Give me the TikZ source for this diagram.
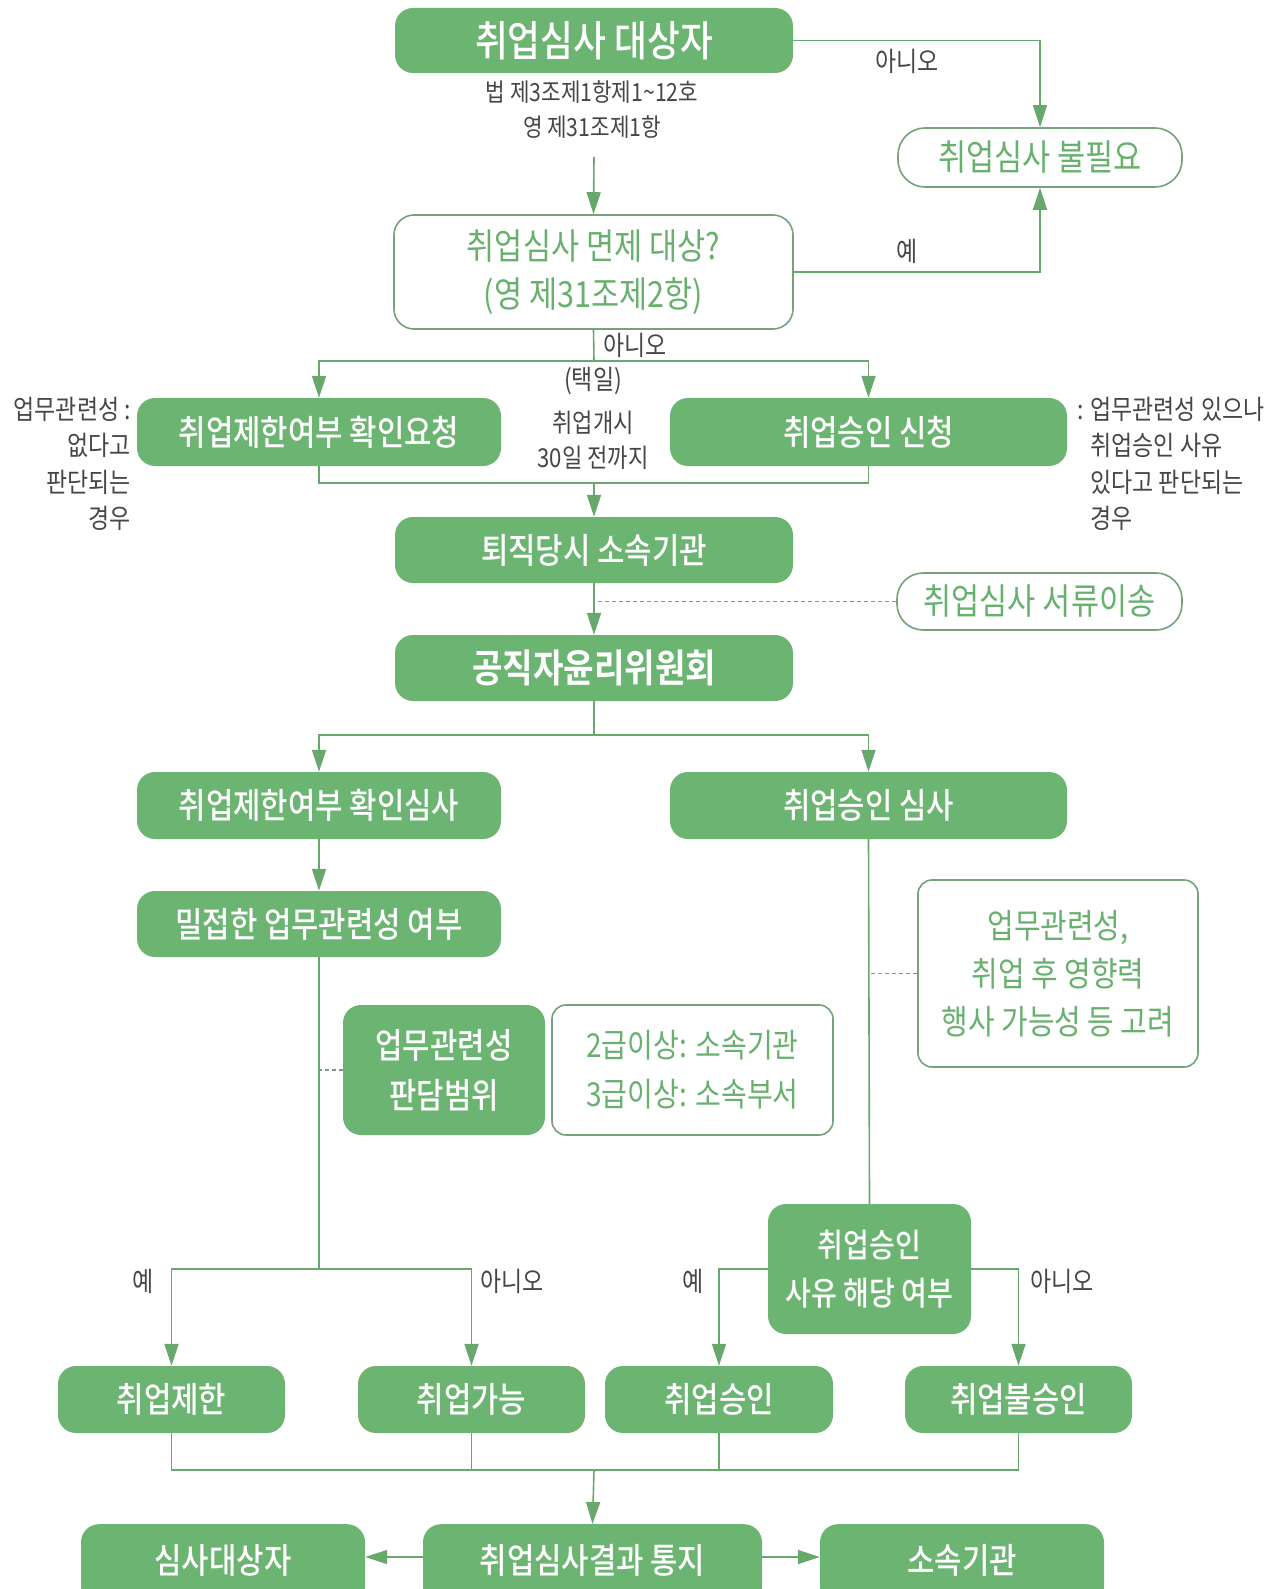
\documentclass[tikz,border=0pt]{standalone}
\usepackage{fontspec}
\setmainfont{Noto Sans CJK KR}[FakeStretch=0.85]
\newfontfamily\boxfont{Noto Sans CJK KR}[UprightFont=* Medium, BoldFont=* Bold, FakeStretch=0.85]
\usetikzlibrary{arrows.meta,calc}
\definecolor{gfill}{RGB}{108,180,113}
\definecolor{gline}{RGB}{104,168,108}
\definecolor{wborder}{RGB}{118,162,122}
\definecolor{gtext}{RGB}{104,176,110}
\definecolor{lgray}{RGB}{70,70,70}
\definecolor{dgray}{RGB}{130,150,132}
\tikzset{
  gbox/.style={fill=gfill, rounded corners=18pt, text=white, align=center, inner sep=0pt,
    font=\boxfont\fontsize{35}{48}\selectfont},
  wbox/.style={draw=wborder, line width=1.6pt, fill=white, rounded corners=20pt, text=gtext,
    align=center, inner sep=0pt, font=\fontsize{36}{48}\selectfont},
  lbl/.style={text=lgray, inner sep=0pt, font=\fontsize{27}{36}\selectfont},
  conn/.style={draw=gline, line width=1.6pt},
  arr/.style={conn, -{Triangle[length=22pt,width=14pt]}},
  dsh/.style={draw=dgray, line width=1.1pt, dash pattern=on 4pt off 3pt},
}
\begin{document}
\begin{tikzpicture}[x=1pt,y=-1pt]
\path[use as bounding box, clip] (0,0) rectangle (1278,1589);
\fill[white] (0,0) rectangle (1278,1589);

% nodes
\node[gbox, minimum width=398pt, minimum height=65pt, font=\boxfont\fontsize{42}{48}\selectfont] (top) at (594,40.5) {취업심사 대상자};
\node[lbl, align=center, font=\fontsize{25}{35}\selectfont] (law) at (592,110) {법 제3조제1항제1\textasciitilde 12호\\영 제31조제1항};
\coordinate (lawend) at (594,157);
\node[wbox, minimum width=284pt, minimum height=59pt, rounded corners=27pt] (nope) at (1040,157.5) {취업심사 불필요};
\node[wbox, minimum width=399pt, minimum height=114pt] (exempt) at (593.5,272) {취업심사 면제 대상?\\(영 제31조제2항)};
\node[gbox, minimum width=364pt, minimum height=68pt] (reqL) at (319,432) {취업제한여부 확인요청};
\node[gbox, minimum width=397pt, minimum height=68pt] (reqR) at (868.5,432) {취업승인 신청};
\node[gbox, minimum width=398pt, minimum height=66pt] (retire) at (594,550) {퇴직당시 소속기관};
\node[wbox, minimum width=285pt, minimum height=57pt, rounded corners=26pt] (transfer) at (1039.5,601.5) {취업심사 서류이송};
\node[gbox, minimum width=398pt, minimum height=66pt, font=\boxfont\fontsize{39}{48}\bfseries] (ethics) at (594,668) {공직자윤리위원회};
\node[gbox, minimum width=364pt, minimum height=67pt] (revL) at (319,805.5) {취업제한여부 확인심사};
\node[gbox, minimum width=397pt, minimum height=67pt] (revR) at (868.5,805.5) {취업승인 심사};
\node[gbox, minimum width=364pt, minimum height=66pt] (close) at (319,924) {밀접한 업무관련성 여부};
\node[gbox, minimum width=202pt, minimum height=130pt, font=\boxfont\fontsize{35}{50}\selectfont] (scope) at (444,1070) {업무관련성\\판담범위};
\node[wbox, minimum width=281pt, minimum height=130pt, rounded corners=14pt, font=\fontsize{33}{49}\selectfont] (grade) at (692.5,1070) {2급이상: 소속기관\\3급이상: 소속부서};
\node[wbox, minimum width=280pt, minimum height=187pt, rounded corners=14pt, font=\fontsize{34}{48}\selectfont] (consider) at (1058,973.5) {업무관련성,\\취업 후 영향력\\행사 가능성 등 고려};
\node[gbox, minimum width=203pt, minimum height=130pt, font=\boxfont\fontsize{33}{48}\selectfont] (appr) at (869.5,1269) {취업승인\\사유 해당 여부};
\node[gbox, minimum width=227pt, minimum height=67pt] (r1) at (171.5,1399.5) {취업제한};
\node[gbox, minimum width=227pt, minimum height=67pt] (r2) at (471.5,1399.5) {취업가능};
\node[gbox, minimum width=228pt, minimum height=67pt] (r3) at (719,1399.5) {취업승인};
\node[gbox, minimum width=227pt, minimum height=67pt] (r4) at (1018.5,1399.5) {취업불승인};
\node[gbox, minimum width=339pt, minimum height=80pt, anchor=north] (res) at (592.5,1524) {\raisebox{10pt}{취업심사결과 통지}};
\node[gbox, minimum width=284pt, minimum height=80pt, anchor=north] (d1) at (223,1524) {\raisebox{10pt}{심사대상자}};
\node[gbox, minimum width=284pt, minimum height=80pt, anchor=north] (d2) at (962,1524) {\raisebox{10pt}{소속기관}};

% labels
\node[lbl] (l1) at (907,61) {아니오};
\node[lbl] (l2) at (907,251) {예};
\node[lbl, anchor=west] (l3) at (603,345) {아니오};
\node[lbl] (l4) at (593,381) {(택일)};
\node[lbl, align=center, font=\fontsize{26}{35}\selectfont] (l5) at (593,440) {취업개시\\30일 전까지};
\node[lbl, align=right, anchor=east, font=\fontsize{27}{36.5}\selectfont] (l6) at (131,464) {업무관련성 :\\없다고\\판단되는\\경우};
\node[lbl, align=left, anchor=west, font=\fontsize{27}{36.5}\selectfont] (l7) at (1077,464) {: 업무관련성 있으나\\\phantom{: }취업승인 사유\\\phantom{: }있다고 판단되는\\\phantom{: }경우};
\node[lbl] (l8) at (143,1281) {예};
\node[lbl] (l9) at (512,1281) {아니오};
\node[lbl] (l10) at (693,1281) {예};
\node[lbl] (l11) at (1062,1281) {아니오};

% connectors
\draw[arr] (top.east) -| (nope.north);
\draw[arr] (lawend) -- (exempt.north);
\draw[arr] (exempt.east) -| (nope.south);
\coordinate (j1) at (594,361);
\draw[conn] (exempt.south) -- (j1);
\draw[arr] (j1) -| (reqL.north);
\draw[arr] (j1) -| (reqR.north);
\coordinate (j2) at (594,483);
\draw[conn] (reqL.south) |- (j2) -| (reqR.south);
\draw[arr] (j2) -- (retire.north);
\draw[arr] (retire.south) -- (ethics.north);
\draw[dsh] (transfer.west) -- (transfer.west -| retire.south);
\coordinate (j3) at (594,735);
\draw[conn] (ethics.south) -- (j3);
\draw[arr] (j3) -| (revL.north);
\draw[arr] (j3) -| (revR.north);
\draw[arr] (revL.south) -- (close.north);
\coordinate (j4) at (319,1269);
\draw[conn] (close.south) -- (j4);
\draw[arr] (j4) -| (r1.north);
\draw[arr] (j4) -| (r2.north);
\draw[dsh] (scope.west) -- (scope.west -| close.south);
\draw[conn] (revR.south) -- (appr.north);
\draw[dsh] (consider.west) -- (consider.west -| revR.south);
\draw[arr] (appr.west) -| (r3.north);
\draw[arr] (appr.east) -| (r4.north);
\coordinate (j5) at (594,1470);
\draw[conn] (r1.south) |- (j5);
\draw[conn] (r4.south) |- (j5);
\draw[conn] (r2.south) -- (r2.south |- j5);
\draw[conn] (r3.south) -- (r3.south |- j5);
\draw[arr] (j5) -- (res.north);
\draw[arr] (res.west |- 0,1557) -- (d1.east |- 0,1557);
\draw[arr] (res.east |- 0,1557) -- (d2.west |- 0,1557);
\end{tikzpicture}
\end{document}
